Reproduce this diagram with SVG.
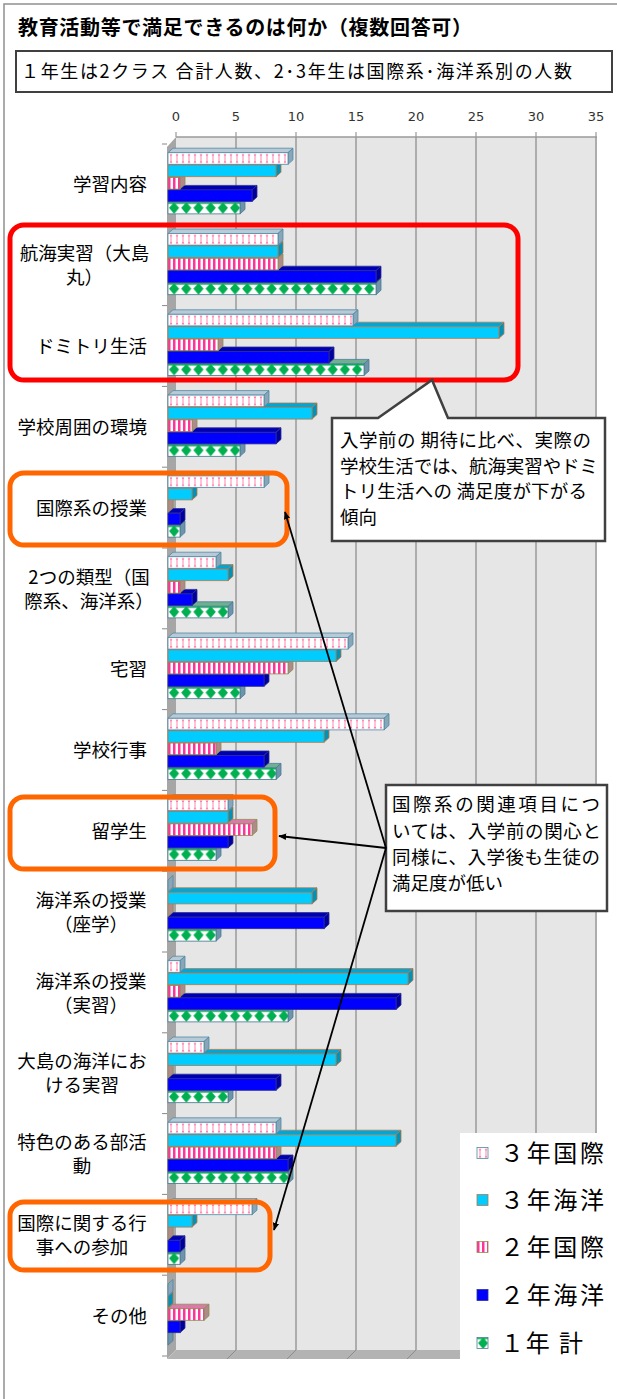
<svg xmlns="http://www.w3.org/2000/svg" width="617" height="1399" viewBox="0 0 617 1399">
<style>
text{font-family:"Noto Sans CJK JP","Noto Sans",sans-serif;fill:#000}
.lbl{font-size:18.5px}
.le{text-anchor:end}
.mid{text-anchor:middle}
.ax{font-family:"DejaVu Sans",sans-serif;font-size:13px;fill:#333;text-anchor:middle}
.cap{font-size:18.5px}
.leg{font-size:24px}
.grid{stroke:#9a9a9a;stroke-width:1.5}
.s1 *,.s2 *,.s3 *,.s4 *,.s5 *{stroke-width:.8}
.s1 rect{fill:url(#p1)}.s1 .t{fill:#b9c9d6}.s1 .d{fill:#8aa5b8}.s1 *{stroke:#4b8aa5}
.s2 rect{fill:#00ccff}.s2 .t{fill:#00a6d6}.s2 .d{fill:#0092b8}.s2 *{stroke:#b5794a}
.s3 rect{fill:url(#p3)}.s3 .t{fill:#d97aa8}.s3 .d{fill:#b08a8a}.s3 *{stroke:#8f8c55}
.s4 rect{fill:#0000ff}.s4 .t{fill:#0000b3}.s4 .d{fill:#00009e}.s4 *{stroke:#2e2e8f}
.s5 rect{fill:url(#p5)}.s5 .t{fill:#6fb090}.s5 .d{fill:#6d94a8}.s5 *{stroke:#4b7a98}
.hl{fill:none;stroke-width:5}
.box{fill:#fff;stroke:#404040;stroke-width:2.5}
.conn{stroke:#000;stroke-width:1.8;fill:none;marker-end:url(#ah)}
</style>
<defs>
<pattern id="p1" patternUnits="userSpaceOnUse" width="6" height="11.6">
<rect width="6" height="11.6" fill="#fff" stroke="none"/>
<path d="M1.6 1.5L3 4.2L4.4 1.5ZM1.6 10.1L3 7.4L4.4 10.1Z" fill="#ff6fa0" stroke="none"/>
<rect x="2.4" y="3.6" width="1.2" height="4.4" fill="#ff9cc0" stroke="none"/>
</pattern>
<pattern id="p3" patternUnits="userSpaceOnUse" width="5" height="11.6">
<rect width="5" height="11.6" fill="#fff" stroke="none"/>
<rect width="2.5" height="11.6" fill="#ff3399" stroke="none"/>
</pattern>
<pattern id="p5" patternUnits="userSpaceOnUse" width="12.2" height="11.6">
<rect width="12.2" height="11.6" fill="#fff" stroke="none"/>
<polygon points="6.1,0 11.2,5.6 6.1,11.6 1,5.6" fill="#00b050" stroke="none"/>
<rect width="12.2" height="1.6" fill="#00b050" stroke="none"/>
</pattern>
<marker id="ah" viewBox="0 0 10 10" refX="9" refY="5" markerWidth="8" markerHeight="8" markerUnits="userSpaceOnUse" orient="auto"><path d="M0 1L10 5L0 9z" fill="#000"/></marker>
</defs>

<rect width="617" height="1399" fill="#fff"/>
<path d="M4 1399V4H617" fill="none" stroke="#909090" stroke-width="1.5"/>

<g id="title">
<text x="18" y="35" font-size="20" font-weight="700" textLength="454" lengthAdjust="spacing">教育活動等で満足できるのは何か（複数回答可）</text>
</g>
<g id="subtitle">
<rect x="16" y="51" width="596" height="41" fill="#fff" stroke="#404040" stroke-width="2"/>
<text x="21" y="78" font-size="18" textLength="551" lengthAdjust="spacing">１年生は2クラス 合計人数、2･3年生は国際系･海洋系別の人数</text>
</g>

<g id="axes">
<rect x="176" y="137" width="421" height="1213" fill="#e6e6e6"/>
<path class="grid" d="M176 137H597M236 137V1350M296 137V1350M356 137V1350M416 137V1350M476 137V1350M536 137V1350M596 137V1350"/>
<path stroke="#9a9a9a" stroke-width="1.2" d="M176 132V137M236 132V137M296 132V137M356 132V137M416 132V137M476 132V137M536 132V137M596 132V137"/>
<polygon points="167,147 176,137 176,1350 167,1359" fill="#a6a6a6"/>
<polygon points="167,1359 176,1350 597,1350 588,1359" fill="#b3b3b3"/>
<path stroke="#8c8c8c" stroke-width="1" d="M236 1350L227 1359M296 1350L287 1359M356 1350L347 1359M416 1350L407 1359M476 1350L467 1359M536 1350L527 1359"/>
<path stroke="#888" stroke-width="1" d="M162 144H167M162 224.8H167M162 305.6H167M162 386.4H167M162 467.2H167M162 548H167M162 628.8H167M162 709.6H167M162 790.4H167M162 871.2H167M162 952H167M162 1032.8H167M162 1113.6H167M162 1194.4H167M162 1275.2H167M162 1356H167"/>
<text class="ax" x="176" y="121">0</text>
<text class="ax" x="236" y="121">5</text>
<text class="ax" x="296" y="121">10</text>
<text class="ax" x="356" y="121">15</text>
<text class="ax" x="416" y="121">20</text>
<text class="ax" x="476" y="121">25</text>
<text class="ax" x="536" y="121">30</text>
<text class="ax" x="596" y="121">35</text>
</g>

<g id="bars">
<g id="cat0" transform="translate(168,152.7)">
<g class="s5" transform="translate(0,49.6)"><path class="t" d="M0 0l5-4.5h72l-5 4.5z"/><path class="d" d="M72 0l5-4.5v11.6l-5 4.5z"/><rect width="72" height="11.6"/></g>
<g class="s4" transform="translate(0,37.2)"><path class="t" d="M0 0l5-4.5h84l-5 4.5z"/><path class="d" d="M84 0l5-4.5v11.6l-5 4.5z"/><rect width="84" height="11.6"/></g>
<g class="s3" transform="translate(0,24.8)"><path class="t" d="M0 0l5-4.5h12l-5 4.5z"/><path class="d" d="M12 0l5-4.5v11.6l-5 4.5z"/><rect width="12" height="11.6"/></g>
<g class="s2" transform="translate(0,12.4)"><path class="t" d="M0 0l5-4.5h108l-5 4.5z"/><path class="d" d="M108 0l5-4.5v11.6l-5 4.5z"/><rect width="108" height="11.6"/></g>
<g class="s1"><path class="t" d="M0 0l5-4.5h120l-5 4.5z"/><path class="d" d="M120 0l5-4.5v11.6l-5 4.5z"/><rect width="120" height="11.6"/></g>
</g>
<g id="cat1" transform="translate(168,233.5)">
<g class="s5" transform="translate(0,49.6)"><path class="t" d="M0 0l5-4.5h208l-5 4.5z"/><path class="d" d="M208 0l5-4.5v11.6l-5 4.5z"/><rect width="208" height="11.6"/></g>
<g class="s4" transform="translate(0,37.2)"><path class="t" d="M0 0l5-4.5h208l-5 4.5z"/><path class="d" d="M208 0l5-4.5v11.6l-5 4.5z"/><rect width="208" height="11.6"/></g>
<g class="s3" transform="translate(0,24.8)"><path class="t" d="M0 0l5-4.5h110l-5 4.5z"/><path class="d" d="M110 0l5-4.5v11.6l-5 4.5z"/><rect width="110" height="11.6"/></g>
<g class="s2" transform="translate(0,12.4)"><path class="t" d="M0 0l5-4.5h110l-5 4.5z"/><path class="d" d="M110 0l5-4.5v11.6l-5 4.5z"/><rect width="110" height="11.6"/></g>
<g class="s1"><path class="t" d="M0 0l5-4.5h110l-5 4.5z"/><path class="d" d="M110 0l5-4.5v11.6l-5 4.5z"/><rect width="110" height="11.6"/></g>
</g>
<g id="cat2" transform="translate(168,314.3)">
<g class="s5" transform="translate(0,49.6)"><path class="t" d="M0 0l5-4.5h196l-5 4.5z"/><path class="d" d="M196 0l5-4.5v11.6l-5 4.5z"/><rect width="196" height="11.6"/></g>
<g class="s4" transform="translate(0,37.2)"><path class="t" d="M0 0l5-4.5h161l-5 4.5z"/><path class="d" d="M161 0l5-4.5v11.6l-5 4.5z"/><rect width="161" height="11.6"/></g>
<g class="s3" transform="translate(0,24.8)"><path class="t" d="M0 0l5-4.5h50l-5 4.5z"/><path class="d" d="M50 0l5-4.5v11.6l-5 4.5z"/><rect width="50" height="11.6"/></g>
<g class="s2" transform="translate(0,12.4)"><path class="t" d="M0 0l5-4.5h331l-5 4.5z"/><path class="d" d="M331 0l5-4.5v11.6l-5 4.5z"/><rect width="331" height="11.6"/></g>
<g class="s1"><path class="t" d="M0 0l5-4.5h185l-5 4.5z"/><path class="d" d="M185 0l5-4.5v11.6l-5 4.5z"/><rect width="185" height="11.6"/></g>
</g>
<g id="cat3" transform="translate(168,395.1)">
<g class="s5" transform="translate(0,49.6)"><path class="t" d="M0 0l5-4.5h72l-5 4.5z"/><path class="d" d="M72 0l5-4.5v11.6l-5 4.5z"/><rect width="72" height="11.6"/></g>
<g class="s4" transform="translate(0,37.2)"><path class="t" d="M0 0l5-4.5h108l-5 4.5z"/><path class="d" d="M108 0l5-4.5v11.6l-5 4.5z"/><rect width="108" height="11.6"/></g>
<g class="s3" transform="translate(0,24.8)"><path class="t" d="M0 0l5-4.5h24l-5 4.5z"/><path class="d" d="M24 0l5-4.5v11.6l-5 4.5z"/><rect width="24" height="11.6"/></g>
<g class="s2" transform="translate(0,12.4)"><path class="t" d="M0 0l5-4.5h144l-5 4.5z"/><path class="d" d="M144 0l5-4.5v11.6l-5 4.5z"/><rect width="144" height="11.6"/></g>
<g class="s1"><path class="t" d="M0 0l5-4.5h96l-5 4.5z"/><path class="d" d="M96 0l5-4.5v11.6l-5 4.5z"/><rect width="96" height="11.6"/></g>
</g>
<g id="cat4" transform="translate(168,475.9)">
<g class="s5" transform="translate(0,49.6)"><path class="t" d="M0 0l5-4.5h12l-5 4.5z"/><path class="d" d="M12 0l5-4.5v11.6l-5 4.5z"/><rect width="12" height="11.6"/></g>
<g class="s4" transform="translate(0,37.2)"><path class="t" d="M0 0l5-4.5h12l-5 4.5z"/><path class="d" d="M12 0l5-4.5v11.6l-5 4.5z"/><rect width="12" height="11.6"/></g>
<g class="s3" transform="translate(0,24.8)"><path class="d" d="M0 0l5-4.5v11.6l-5 4.5z"/></g>
<g class="s2" transform="translate(0,12.4)"><path class="t" d="M0 0l5-4.5h24l-5 4.5z"/><path class="d" d="M24 0l5-4.5v11.6l-5 4.5z"/><rect width="24" height="11.6"/></g>
<g class="s1"><path class="t" d="M0 0l5-4.5h96l-5 4.5z"/><path class="d" d="M96 0l5-4.5v11.6l-5 4.5z"/><rect width="96" height="11.6"/></g>
</g>
<g id="cat5" transform="translate(168,556.7)">
<g class="s5" transform="translate(0,49.6)"><path class="t" d="M0 0l5-4.5h60l-5 4.5z"/><path class="d" d="M60 0l5-4.5v11.6l-5 4.5z"/><rect width="60" height="11.6"/></g>
<g class="s4" transform="translate(0,37.2)"><path class="t" d="M0 0l5-4.5h24l-5 4.5z"/><path class="d" d="M24 0l5-4.5v11.6l-5 4.5z"/><rect width="24" height="11.6"/></g>
<g class="s3" transform="translate(0,24.8)"><path class="t" d="M0 0l5-4.5h12l-5 4.5z"/><path class="d" d="M12 0l5-4.5v11.6l-5 4.5z"/><rect width="12" height="11.6"/></g>
<g class="s2" transform="translate(0,12.4)"><path class="t" d="M0 0l5-4.5h60l-5 4.5z"/><path class="d" d="M60 0l5-4.5v11.6l-5 4.5z"/><rect width="60" height="11.6"/></g>
<g class="s1"><path class="t" d="M0 0l5-4.5h48l-5 4.5z"/><path class="d" d="M48 0l5-4.5v11.6l-5 4.5z"/><rect width="48" height="11.6"/></g>
</g>
<g id="cat6" transform="translate(168,637.5)">
<g class="s5" transform="translate(0,49.6)"><path class="t" d="M0 0l5-4.5h72l-5 4.5z"/><path class="d" d="M72 0l5-4.5v11.6l-5 4.5z"/><rect width="72" height="11.6"/></g>
<g class="s4" transform="translate(0,37.2)"><path class="t" d="M0 0l5-4.5h96l-5 4.5z"/><path class="d" d="M96 0l5-4.5v11.6l-5 4.5z"/><rect width="96" height="11.6"/></g>
<g class="s3" transform="translate(0,24.8)"><path class="t" d="M0 0l5-4.5h120l-5 4.5z"/><path class="d" d="M120 0l5-4.5v11.6l-5 4.5z"/><rect width="120" height="11.6"/></g>
<g class="s2" transform="translate(0,12.4)"><path class="t" d="M0 0l5-4.5h168l-5 4.5z"/><path class="d" d="M168 0l5-4.5v11.6l-5 4.5z"/><rect width="168" height="11.6"/></g>
<g class="s1"><path class="t" d="M0 0l5-4.5h180l-5 4.5z"/><path class="d" d="M180 0l5-4.5v11.6l-5 4.5z"/><rect width="180" height="11.6"/></g>
</g>
<g id="cat7" transform="translate(168,718.3)">
<g class="s5" transform="translate(0,49.6)"><path class="t" d="M0 0l5-4.5h108l-5 4.5z"/><path class="d" d="M108 0l5-4.5v11.6l-5 4.5z"/><rect width="108" height="11.6"/></g>
<g class="s4" transform="translate(0,37.2)"><path class="t" d="M0 0l5-4.5h96l-5 4.5z"/><path class="d" d="M96 0l5-4.5v11.6l-5 4.5z"/><rect width="96" height="11.6"/></g>
<g class="s3" transform="translate(0,24.8)"><path class="t" d="M0 0l5-4.5h48l-5 4.5z"/><path class="d" d="M48 0l5-4.5v11.6l-5 4.5z"/><rect width="48" height="11.6"/></g>
<g class="s2" transform="translate(0,12.4)"><path class="t" d="M0 0l5-4.5h156l-5 4.5z"/><path class="d" d="M156 0l5-4.5v11.6l-5 4.5z"/><rect width="156" height="11.6"/></g>
<g class="s1"><path class="t" d="M0 0l5-4.5h216l-5 4.5z"/><path class="d" d="M216 0l5-4.5v11.6l-5 4.5z"/><rect width="216" height="11.6"/></g>
</g>
<g id="cat8" transform="translate(168,799.1)">
<g class="s5" transform="translate(0,49.6)"><path class="t" d="M0 0l5-4.5h48l-5 4.5z"/><path class="d" d="M48 0l5-4.5v11.6l-5 4.5z"/><rect width="48" height="11.6"/></g>
<g class="s4" transform="translate(0,37.2)"><path class="t" d="M0 0l5-4.5h60l-5 4.5z"/><path class="d" d="M60 0l5-4.5v11.6l-5 4.5z"/><rect width="60" height="11.6"/></g>
<g class="s3" transform="translate(0,24.8)"><path class="t" d="M0 0l5-4.5h84l-5 4.5z"/><path class="d" d="M84 0l5-4.5v11.6l-5 4.5z"/><rect width="84" height="11.6"/></g>
<g class="s2" transform="translate(0,12.4)"><path class="t" d="M0 0l5-4.5h60l-5 4.5z"/><path class="d" d="M60 0l5-4.5v11.6l-5 4.5z"/><rect width="60" height="11.6"/></g>
<g class="s1"><path class="t" d="M0 0l5-4.5h60l-5 4.5z"/><path class="d" d="M60 0l5-4.5v11.6l-5 4.5z"/><rect width="60" height="11.6"/></g>
</g>
<g id="cat9" transform="translate(168,879.9)">
<g class="s5" transform="translate(0,49.6)"><path class="t" d="M0 0l5-4.5h48l-5 4.5z"/><path class="d" d="M48 0l5-4.5v11.6l-5 4.5z"/><rect width="48" height="11.6"/></g>
<g class="s4" transform="translate(0,37.2)"><path class="t" d="M0 0l5-4.5h156l-5 4.5z"/><path class="d" d="M156 0l5-4.5v11.6l-5 4.5z"/><rect width="156" height="11.6"/></g>
<g class="s3" transform="translate(0,24.8)"><path class="d" d="M0 0l5-4.5v11.6l-5 4.5z"/></g>
<g class="s2" transform="translate(0,12.4)"><path class="t" d="M0 0l5-4.5h144l-5 4.5z"/><path class="d" d="M144 0l5-4.5v11.6l-5 4.5z"/><rect width="144" height="11.6"/></g>
<g class="s1"><path class="d" d="M0 0l5-4.5v11.6l-5 4.5z"/></g>
</g>
<g id="cat10" transform="translate(168,960.7)">
<g class="s5" transform="translate(0,49.6)"><path class="t" d="M0 0l5-4.5h120l-5 4.5z"/><path class="d" d="M120 0l5-4.5v11.6l-5 4.5z"/><rect width="120" height="11.6"/></g>
<g class="s4" transform="translate(0,37.2)"><path class="t" d="M0 0l5-4.5h228l-5 4.5z"/><path class="d" d="M228 0l5-4.5v11.6l-5 4.5z"/><rect width="228" height="11.6"/></g>
<g class="s3" transform="translate(0,24.8)"><path class="t" d="M0 0l5-4.5h12l-5 4.5z"/><path class="d" d="M12 0l5-4.5v11.6l-5 4.5z"/><rect width="12" height="11.6"/></g>
<g class="s2" transform="translate(0,12.4)"><path class="t" d="M0 0l5-4.5h240l-5 4.5z"/><path class="d" d="M240 0l5-4.5v11.6l-5 4.5z"/><rect width="240" height="11.6"/></g>
<g class="s1"><path class="t" d="M0 0l5-4.5h12l-5 4.5z"/><path class="d" d="M12 0l5-4.5v11.6l-5 4.5z"/><rect width="12" height="11.6"/></g>
</g>
<g id="cat11" transform="translate(168,1041.5)">
<g class="s5" transform="translate(0,49.6)"><path class="t" d="M0 0l5-4.5h60l-5 4.5z"/><path class="d" d="M60 0l5-4.5v11.6l-5 4.5z"/><rect width="60" height="11.6"/></g>
<g class="s4" transform="translate(0,37.2)"><path class="t" d="M0 0l5-4.5h108l-5 4.5z"/><path class="d" d="M108 0l5-4.5v11.6l-5 4.5z"/><rect width="108" height="11.6"/></g>
<g class="s3" transform="translate(0,24.8)"><path class="d" d="M0 0l5-4.5v11.6l-5 4.5z"/></g>
<g class="s2" transform="translate(0,12.4)"><path class="t" d="M0 0l5-4.5h168l-5 4.5z"/><path class="d" d="M168 0l5-4.5v11.6l-5 4.5z"/><rect width="168" height="11.6"/></g>
<g class="s1"><path class="t" d="M0 0l5-4.5h36l-5 4.5z"/><path class="d" d="M36 0l5-4.5v11.6l-5 4.5z"/><rect width="36" height="11.6"/></g>
</g>
<g id="cat12" transform="translate(168,1122.3)">
<g class="s5" transform="translate(0,49.6)"><path class="t" d="M0 0l5-4.5h120l-5 4.5z"/><path class="d" d="M120 0l5-4.5v11.6l-5 4.5z"/><rect width="120" height="11.6"/></g>
<g class="s4" transform="translate(0,37.2)"><path class="t" d="M0 0l5-4.5h120l-5 4.5z"/><path class="d" d="M120 0l5-4.5v11.6l-5 4.5z"/><rect width="120" height="11.6"/></g>
<g class="s3" transform="translate(0,24.8)"><path class="t" d="M0 0l5-4.5h108l-5 4.5z"/><path class="d" d="M108 0l5-4.5v11.6l-5 4.5z"/><rect width="108" height="11.6"/></g>
<g class="s2" transform="translate(0,12.4)"><path class="t" d="M0 0l5-4.5h228l-5 4.5z"/><path class="d" d="M228 0l5-4.5v11.6l-5 4.5z"/><rect width="228" height="11.6"/></g>
<g class="s1"><path class="t" d="M0 0l5-4.5h108l-5 4.5z"/><path class="d" d="M108 0l5-4.5v11.6l-5 4.5z"/><rect width="108" height="11.6"/></g>
</g>
<g id="cat13" transform="translate(168,1203.1)">
<g class="s5" transform="translate(0,49.6)"><path class="t" d="M0 0l5-4.5h12l-5 4.5z"/><path class="d" d="M12 0l5-4.5v11.6l-5 4.5z"/><rect width="12" height="11.6"/></g>
<g class="s4" transform="translate(0,37.2)"><path class="t" d="M0 0l5-4.5h12l-5 4.5z"/><path class="d" d="M12 0l5-4.5v11.6l-5 4.5z"/><rect width="12" height="11.6"/></g>
<g class="s3" transform="translate(0,24.8)"><path class="d" d="M0 0l5-4.5v11.6l-5 4.5z"/></g>
<g class="s2" transform="translate(0,12.4)"><path class="t" d="M0 0l5-4.5h24l-5 4.5z"/><path class="d" d="M24 0l5-4.5v11.6l-5 4.5z"/><rect width="24" height="11.6"/></g>
<g class="s1"><path class="t" d="M0 0l5-4.5h84l-5 4.5z"/><path class="d" d="M84 0l5-4.5v11.6l-5 4.5z"/><rect width="84" height="11.6"/></g>
</g>
<g id="cat14" transform="translate(168,1283.9)">
<g class="s5" transform="translate(0,49.6)"><path class="d" d="M0 0l5-4.5v11.6l-5 4.5z"/></g>
<g class="s4" transform="translate(0,37.2)"><path class="t" d="M0 0l5-4.5h12l-5 4.5z"/><path class="d" d="M12 0l5-4.5v11.6l-5 4.5z"/><rect width="12" height="11.6"/></g>
<g class="s3" transform="translate(0,24.8)"><path class="t" d="M0 0l5-4.5h36l-5 4.5z"/><path class="d" d="M36 0l5-4.5v11.6l-5 4.5z"/><rect width="36" height="11.6"/></g>
<g class="s2" transform="translate(0,12.4)"><path class="d" d="M0 0l5-4.5v11.6l-5 4.5z"/></g>
<g class="s1"><path class="d" d="M0 0l5-4.5v11.6l-5 4.5z"/></g>
</g>
</g>

<g id="category-labels" class="lbl">
<text class="le" x="147" y="191">学習内容</text>
<text class="mid"><tspan x="84.5" y="260">航海実習（大島</tspan><tspan x="84.5" y="284">丸）</tspan></text>
<text class="le" x="147" y="353">ドミトリ生活</text>
<text class="le" x="147" y="434">学校周囲の環境</text>
<text class="le" x="147" y="514.5">国際系の授業</text>
<text class="mid"><tspan x="89" y="583.5">2つの類型（国</tspan><tspan x="89" y="607.5">際系、海洋系）</tspan></text>
<text class="le" x="147" y="676">宅習</text>
<text class="le" x="147" y="757">学校行事</text>
<text class="le" x="147" y="838">留学生</text>
<text class="mid"><tspan x="91" y="906.5">海洋系の授業</tspan><tspan x="91" y="930.5">（座学）</tspan></text>
<text class="mid"><tspan x="91" y="987.5">海洋系の授業</tspan><tspan x="91" y="1011.5">（実習）</tspan></text>
<text class="mid"><tspan x="82" y="1068">大島の海洋にお</tspan><tspan x="82" y="1092">ける実習</tspan></text>
<text class="mid"><tspan x="82" y="1149">特色のある部活</tspan><tspan x="82" y="1173">動</tspan></text>
<text class="mid"><tspan x="82" y="1230">国際に関する行</tspan><tspan x="82" y="1254">事への参加</tspan></text>
<text class="le" x="147" y="1322.5">その他</text>
</g>

<g id="legend">
<rect x="460" y="1133" width="157" height="250" fill="#fff"/>
<g class="s1" transform="translate(477,1147.5)"><rect width="11" height="11"/></g>
<g class="s2" transform="translate(477,1194.5)"><rect width="11" height="11"/></g>
<g class="s3" transform="translate(477,1241.5)"><rect width="11" height="11"/></g>
<g class="s4" transform="translate(477,1289.5)"><rect width="11" height="11"/></g>
<g class="s5" transform="translate(477,1337.5)"><rect width="11" height="11"/></g>
<text class="leg" x="500" y="1162" textLength="104" lengthAdjust="spacing">３年国際</text>
<text class="leg" x="500" y="1209" textLength="104" lengthAdjust="spacing">３年海洋</text>
<text class="leg" x="500" y="1256" textLength="104" lengthAdjust="spacing">２年国際</text>
<text class="leg" x="500" y="1304" textLength="104" lengthAdjust="spacing">２年海洋</text>
<text class="leg" x="500" y="1352" textLength="83" lengthAdjust="spacing">１年 計</text>
</g>

<g id="highlight-red"><rect class="hl" x="10" y="225" width="508" height="155" rx="14" stroke="#ff0000"/></g>
<g id="highlight-kokusai-jugyo"><rect class="hl" x="10" y="473" width="277" height="72" rx="14" stroke="#ff6600"/></g>
<g id="highlight-ryugakusei"><rect class="hl" x="10" y="797" width="265" height="72" rx="14" stroke="#ff6600"/></g>
<g id="highlight-kokusai-gyoji"><rect class="hl" x="10" y="1202" width="260" height="68" rx="14" stroke="#ff6600"/></g>

<g id="callout-1">
<path class="box" d="M332 418H378L432 380L448 418H605V541H332Z"/>
<text class="cap"><tspan x="340" y="447" textLength="251" lengthAdjust="spacing">入学前の 期待に比べ、実際の</tspan><tspan x="340" y="472.5" textLength="258" lengthAdjust="spacing">学校生活では、航海実習やドミ</tspan><tspan x="340" y="498" textLength="247" lengthAdjust="spacing">トリ生活への 満足度が下がる</tspan><tspan x="340" y="524">傾向</tspan></text>
</g>

<g id="callout-2">
<rect class="box" x="386" y="785" width="221" height="126"/>
<text class="cap"><tspan x="392" y="811" textLength="208" lengthAdjust="spacing">国際系の関連項目につ</tspan><tspan x="392" y="837.5" textLength="209" lengthAdjust="spacing">いては、入学前の関心と</tspan><tspan x="392" y="864" textLength="208" lengthAdjust="spacing">同様に、入学後も生徒の</tspan><tspan x="392" y="890">満足度が低い</tspan></text>
</g>

<g id="connectors">
<path class="conn" d="M386 848L285 512"/>
<path class="conn" d="M386 848L279 836"/>
<path class="conn" d="M386 848L274 1230"/>
</g>
</svg>
